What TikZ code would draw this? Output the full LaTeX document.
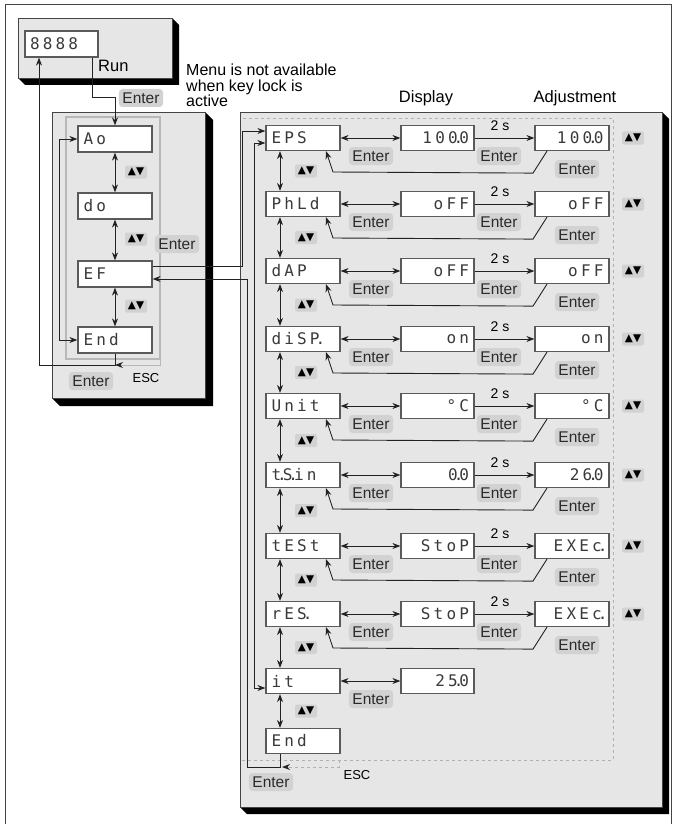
\documentclass[tikz,border=0pt]{standalone}
\usepackage{fontspec}
\setmainfont{Liberation Sans}
\newfontfamily\segfont[LetterSpace=20]{DejaVu Sans Mono}
\newfontfamily\symfont{DejaVu Sans}
\usetikzlibrary{arrows.meta}
\definecolor{PanelBG}{HTML}{E6E6E6}
\definecolor{PanelLine}{HTML}{444444}
\definecolor{KeyBG}{HTML}{D2D2D2}
\definecolor{KeyText}{HTML}{2A2A2A}
\definecolor{BoxLine}{HTML}{5A5A5A}
\definecolor{SegText}{HTML}{3A3A3A}
\definecolor{LineCol}{HTML}{222222}
\definecolor{FrameGray}{HTML}{B8B8B8}
\definecolor{DashGray}{HTML}{B0B0B0}
% gray panel with black drop shadow
\newcommand{\panelbox}[5]{%
  \fill[black] (#3,#2) -- (#3+#5,#2+#5) -- (#3+#5,#4+#5) -- (#1+#5,#4+#5) -- (#1,#4) -- cycle;
  \draw[PanelLine,line width=0.8pt,fill=PanelBG] (#1,#2) rectangle (#3,#4);}
% narrow decimal point of the display
\newcommand{\sdot}{\kern-0.25em.\kern-0.25em}
\tikzset{
  lcd/.style={draw=BoxLine,fill=white,line width=1.2pt,minimum width=74pt,
    minimum height=25pt,inner sep=0pt,text width=63pt,text=SegText,
    font=\segfont\fontsize{16}{16}\selectfont},
  menubox/.style={lcd,align=left},
  valbox/.style={lcd,align=right},
  keylbl/.style={fill=KeyBG,rounded corners=3.5pt,inner xsep=3.5pt,inner ysep=0pt,
    minimum height=18pt,text=KeyText,font=\fontsize{15.5}{15.5}\selectfont},
  updown/.style={fill=KeyBG,rounded corners=2pt,inner sep=0pt,minimum width=22pt,
    minimum height=13pt,font=\symfont\fontsize{10.5}{10.5}\selectfont},
  flow/.style={draw=LineCol,line width=0.9pt,-{Stealth[length=8pt,width=6pt]}},
  both/.style={draw=LineCol,line width=0.9pt,{Stealth[length=8pt,width=6pt]}-{Stealth[length=8pt,width=6pt]}},
  esc/.style={line width=0.9pt,-{Stealth[length=8pt,width=6pt,color=LineCol]}},
  hdr/.style={font=\fontsize{16.5}{16.5}\selectfont}
}
\begin{document}
\begin{tikzpicture}[x=1pt,y=-1pt]
  \useasboundingbox (0,0) rectangle (676,824);
  \draw[PanelLine,line width=1pt] (5,5) rectangle (671,830);

  % --- panels ---
  \panelbox{18}{18}{172}{78}{7}
  \panelbox{52}{112}{205}{398}{8}
  \panelbox{240}{112}{662}{807}{7}
  \draw[FrameGray,line width=1.5pt] (66,117) rectangle (160,359);
  \draw[DashGray,dashed,line width=0.8pt] (242,760) -- (613,760) -- (613,118) -- (242,118);

  % --- texts ---
  \node[hdr,anchor=west,inner sep=0pt] (run) at (98,66) {Run};
  \node[hdr,anchor=north west,align=left,inner sep=0pt,font=\fontsize{16}{15.5}\selectfont]
    (note) at (186,64) {Menu is not available\\when key lock is\\active};
  \node[hdr] (hdisp) at (426,98) {Display};
  \node[hdr] (hadj) at (575,98) {Adjustment};

  % --- left: main menu ---
  \node[menubox,minimum width=73pt,minimum height=26pt] (disp) at (61.5,44) {8888};
  \node[menubox,minimum height=26pt] (ao) at (115,139) {Ao};
  \node[menubox,minimum height=26pt] (do) at (115,206) {do};
  \node[menubox,minimum height=26pt] (ef) at (115,274) {EF};
  \node[menubox,minimum height=26pt] (lend) at (115,340) {End};
  \draw[flow] ([xshift=30.5pt]disp.south) -- (92,97) -- (115,97) -- (ao.north);
  \node[keylbl] (k0) at (141,98) {Enter};
  \draw[both] (ao) -- (do);
  \draw[both] (do) -- (ef);
  \draw[both] (ef) -- (lend);
  \node[updown] (u1) at (136,172) {▲▼};
  \node[updown] (u2) at (136,239) {▲▼};
  \node[updown] (u3) at (136,306) {▲▼};
  \node[keylbl] (k1) at (177,244) {Enter};
  \draw[both] (ao.west) -- (59,139) -- (59,340) -- (lend.west);
  \coordinate (jL) at (115,365);
  \coordinate (escL) at (160,359);
  \draw[flow] (lend.south) -- (jL) -- (39,365) -- ([xshift=-22.5pt]disp.south);
  \draw[esc,FrameGray] (escL) -- (160,365) -- (jL);
  \node[keylbl] (k2) at (91,381) {Enter};
  \node[font=\fontsize{13}{13}\selectfont] (escl) at (146,378) {ESC};

  % --- right: EF sub menu ---
  \foreach \r/\y/\m/\d/\a in {eps/138/EPS/100\sdot0/100\sdot0, phld/204/PhLd/oFF/oFF,
      dap/271/dAP/oFF/oFF, disp/339/diSP\sdot/on/on, unit/406/Unit/°C/°C,
      tsin/475/t\sdot S\sdot in/0\sdot0/26\sdot0, test/546/tESt/StoP/EXEc\sdot,
      res/614/rES\sdot/StoP/EXEc\sdot}{
    \node[menubox] (m\r) at (303,\y) {\m};
    \node[valbox,minimum width=73pt] (d\r) at (437.5,\y) {\d};
    \node[valbox] (a\r) at (572,\y) {\a};
    \draw[both] (m\r) -- (d\r);
    \draw[flow] (d\r) -- (a\r);
    \draw[flow] ([xshift=-25pt]a\r.south) -- ++(-14,22) -- (333,\y+34) -- ([xshift=23pt]m\r.south);
    \node[keylbl] (ka\r) at (371,\y+18) {Enter};
    \node[keylbl] (kb\r) at (499,\y+18) {Enter};
    \node[keylbl] (kc\r) at (577,\y+31) {Enter};
    \node[font=\fontsize{14}{14}\selectfont] (t\r) at (500,\y-12) {2 s};
    \node[updown] (w\r) at (633,\y) {▲▼};
  }
  \node[menubox] (mit) at (303,681) {it};
  \node[valbox,minimum width=73pt] (dit) at (437.5,681) {25\sdot0};
  \draw[both] (mit) -- (dit);
  \node[keylbl] (kait) at (371,699) {Enter};
  \node[menubox] (mend) at (303,741) {End};
  \foreach \p/\q/\v in {eps/phld/171, phld/dap/237.5, dap/disp/305, disp/unit/372.5,
      unit/tsin/440.5, tsin/test/510.5, test/res/580, res/it/647.5, it/end/711}{
    \draw[both] ([xshift=-23pt]m\p.south) -- ([xshift=-23pt]m\q.north);
    \node[updown] (v\p) at (306,\v) {▲▼};
  }
  % links between the menus
  \draw[flow] ([yshift=8pt]ef.east) -- (242,266) -- (242,131) -- ([yshift=7pt]meps.west);
  \draw[both] ([yshift=-5pt]meps.west) -- (254,143) -- (254,688) -- ([yshift=-7pt]mit.west);
  \coordinate (jR) at (280,767);
  \coordinate (escR) at (339,760);
  \draw[flow] ([xshift=-23pt]mend.south) -- (jR) -- (247,767) -- (247,279) -- ([yshift=-5pt]ef.east);
  \draw[esc,DashGray,dashed] (escR) -- (339,767) -- ([xshift=2pt]jR);
  \node[keylbl] (k3) at (271,782) {Enter};
  \node[font=\fontsize{13}{13}\selectfont] (escr) at (357,775) {ESC};
\end{tikzpicture}
\end{document}
